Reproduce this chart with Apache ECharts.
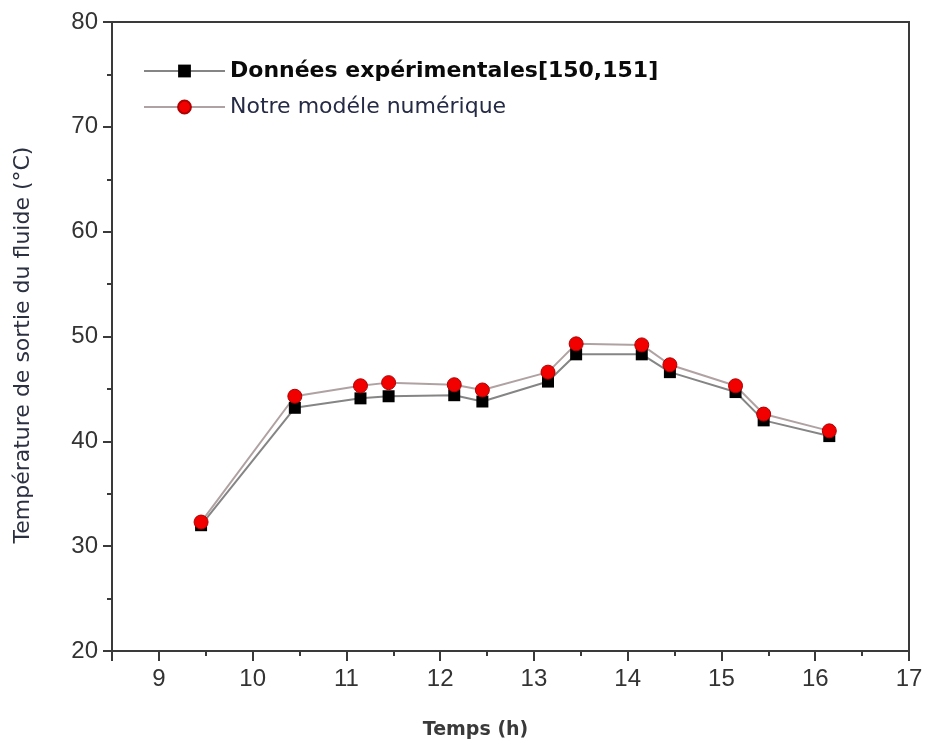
<!DOCTYPE html>
<html>
<head>
<meta charset="utf-8">
<script src="https://cdn.jsdelivr.net/npm/echarts@6/dist/echarts.min.js"></script>
<style>
  html, body { margin: 0; padding: 0; background: #ffffff; }
  #chart { width: 927px; height: 747px; }
</style>
</head>
<body>
<div id="chart"></div>
<script>
// Heure de mesure (h)
const hours = [9.45, 10.45, 11.15, 11.45, 12.15, 12.45, 13.15, 13.45, 14.15, 14.45, 15.15, 15.45, 16.15];
// Température de sortie mesurée (°C)
const experimental = [32.0, 43.2, 44.1, 44.3, 44.4, 43.8, 45.7, 48.3, 48.3, 46.6, 44.7, 42.0, 40.5];
// Température de sortie calculée par le modèle (°C)
const numerical = [32.3, 44.3, 45.3, 45.6, 45.4, 44.9, 46.6, 49.3, 49.2, 47.3, 45.3, 42.6, 41.0];

const seriesNames = ['Données expérimentales[150,151]', 'Notre modéle numérique'];
const xAxisTitle = 'Temps (h)';
const yAxisTitle = 'Température de sortie du fluide (°C)';

const pairs = (xs, ys) => xs.map((x, i) => [x, ys[i]]);

const chart = echarts.init(document.getElementById('chart'), null, { renderer: 'canvas' });

chart.setOption({
  backgroundColor: '#ffffff',
  animation: false,
  grid: {
    left: 112, right: 18, top: 22, bottom: 96,
    show: true, borderColor: '#3a3a3a', borderWidth: 2, backgroundColor: 'transparent'
  },
  legend: {
    left: 143, top: 60, orient: 'vertical', padding: 0,
    itemWidth: 81, itemHeight: 16, itemGap: 14,
    data: [
      { name: seriesNames[0], textStyle: { fontFamily: 'DejaVu Sans', fontWeight: 'bold', fontSize: 22, color: '#0a0a0a' } },
      { name: seriesNames[1], textStyle: { fontFamily: 'DejaVu Sans', fontWeight: 'normal', fontSize: 22, color: '#252a45' } }
    ]
  },
  xAxis: {
    type: 'value', min: 8.5, max: 17, splitNumber: 8,
    name: xAxisTitle, nameLocation: 'middle', nameGap: 70,
    nameTextStyle: { fontFamily: 'DejaVu Sans', fontWeight: 'bold', fontSize: 19, color: '#3a3a3a', padding: [0, 70, 0, 0] },
    axisLine: { lineStyle: { color: '#3a3a3a', width: 2 } },
    axisTick: { show: true, inside: false, length: 10, lineStyle: { color: '#3a3a3a', width: 2 } },
    minorTick: { show: true, splitNumber: 2, length: 5, lineStyle: { color: '#3a3a3a', width: 2 } },
    axisLabel: {
      margin: 16, fontFamily: 'Liberation Sans', fontSize: 24, color: '#333333',
      formatter: v => (Number.isInteger(v) ? String(v) : '')
    },
    splitLine: { show: false }
  },
  yAxis: {
    type: 'value', min: 20, max: 80, interval: 10,
    name: yAxisTitle, nameLocation: 'middle', nameGap: 78, nameRotate: 90,
    nameTextStyle: { fontFamily: 'DejaVu Sans', fontSize: 22, color: '#2c3142', padding: [0, 17, 0, 0] },
    axisLine: { lineStyle: { color: '#3a3a3a', width: 2 } },
    axisTick: { show: true, inside: false, length: 9, lineStyle: { color: '#3a3a3a', width: 2 } },
    minorTick: { show: true, splitNumber: 2, length: 5, lineStyle: { color: '#3a3a3a', width: 2 } },
    axisLabel: { margin: 14, fontFamily: 'Liberation Sans', fontSize: 24, color: '#333333' },
    splitLine: { show: false }
  },
  series: [
    {
      name: seriesNames[0], type: 'line', data: pairs(hours, experimental),
      symbol: 'rect', symbolSize: 12,
      itemStyle: { color: '#000000' },
      lineStyle: { color: '#858585', width: 2 }
    },
    {
      name: seriesNames[1], type: 'line', data: pairs(hours, numerical),
      symbol: 'circle', symbolSize: 14,
      itemStyle: { color: '#f20000', borderColor: '#b00000', borderWidth: 1 },
      lineStyle: { color: '#b0a2a2', width: 2 }
    }
  ]
});
</script>
</body>
</html>
